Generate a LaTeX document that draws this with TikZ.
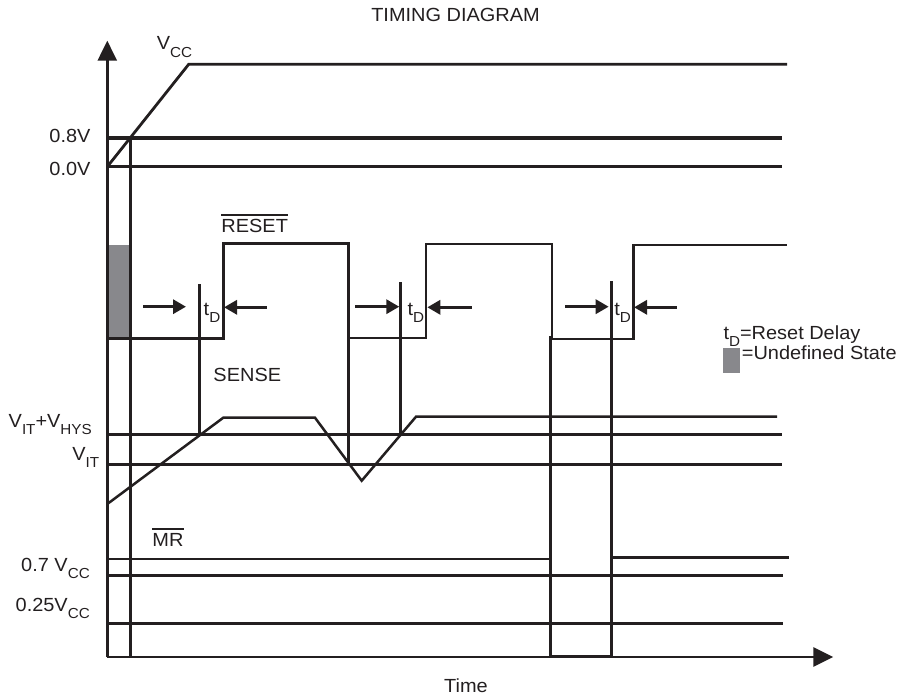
\documentclass[tikz,border=0pt]{standalone}
\usepackage{fontspec}
\setmainfont{Liberation Sans}[FakeStretch=1.05]
\usetikzlibrary{arrows.meta}
\definecolor{ink}{HTML}{231F20}
\definecolor{undef}{HTML}{88888C}
\newcommand{\lowtxt}[1]{\raisebox{-0.7ex}{\fontsize{14.5}{14.5}\selectfont #1}}
\newcommand{\ovl}[1]{\leavevmode\vbox{\hrule height 1.5pt\kern 3pt\hbox{#1}}}

\begin{document}
\begin{tikzpicture}[x=1pt,y=-1pt,
  lbl/.style={font=\fontsize{19}{22}\selectfont,inner sep=0pt,text=ink},
  thr/.style={ink,line width=3pt},
  wave/.style={ink,line width=2.5pt,line join=miter},
  axis/.style={ink,line width=2.8pt,-{Triangle[length=20pt,width=19pt]}},
  tdarr/.style={ink,line width=3.2pt,-{Triangle[length=13pt,width=14pt]}}]
\useasboundingbox (0,0) rectangle (907,698);

\node [lbl,anchor=base] (title) at (455.5,21.5) {TIMING DIAGRAM};

% axes
\draw [axis] (107.3,657) -- (107.3,40.7);
\draw [axis] (107.3,657) -- (833.3,657);
\draw [thr] (130,138) -- (130,657);

% supply
\draw [wave,line width=2.8pt] (107.3,166.7) -- (188.7,64.3) -- (787,64.3);
\draw [thr] (107.3,138) -- (782,138);
\draw [thr] (107.3,166.7) -- (782,166.7);
\node [lbl,anchor=base] (vcc) at (174.5,50) {V\lowtxt{CC}};
\node [lbl,anchor=base east] (v08) at (90.7,142.7) {0.8V};
\node [lbl,anchor=base east] (v00) at (90.7,175) {0.0V};

% reset output
\fill [undef] (108.7,245) rectangle (128.6,337);
\draw [wave] (107.3,338.3) -- (223.3,338.3) -- (223.3,243.5) -- (348.5,243.5) -- (348.5,338)
  -- (426,338) -- (426,244) -- (552,244) -- (552,339) -- (633.3,339) -- (633.3,245) -- (787,245);
\draw [thr] (348.5,338) -- (348.5,463);
\node [lbl,anchor=base] (reset) at (254.7,232) {\ovl{RESET}};

\draw [thr] (199.3,284.3) -- (199.3,434);
\draw [thr] (400.3,282.3) -- (400.3,433);
\draw [tdarr] (143.3,306.7) -- (186,306.7);
\draw [tdarr] (266.7,307.3) -- (224,307.3);
\draw [tdarr] (355,306.7) -- (399.3,306.7);
\draw [tdarr] (471.7,307.3) -- (427.3,307.3);
\draw [tdarr] (565,306.7) -- (608.7,306.7);
\draw [tdarr] (676.7,307.3) -- (634,307.3);
\node [lbl,anchor=base] (td1) at (212,315) {t\lowtxt{D}};
\node [lbl,anchor=base] (td2) at (415.8,315) {t\lowtxt{D}};
\node [lbl,anchor=base] (td3) at (622.7,315) {t\lowtxt{D}};

% legend
\node [lbl,anchor=base west] (leg1) at (723.3,339) {t\lowtxt{D}=Reset Delay};
\fill [undef] (722.7,348.3) rectangle (740,372.7);
\node [lbl,anchor=base west] (leg2) at (741.7,359.3) {=Undefined State};

% sense input
\node [lbl,anchor=base] (sense) at (247.3,381.7) {SENSE};
\draw [wave] (107.3,504) -- (223.3,417.7) -- (315,417.7) -- (361.7,480.7) -- (416,416.7) -- (777,416.7);
\draw [thr] (107.3,434) -- (782,434);
\draw [thr] (107.3,464) -- (782,464);
\node [lbl,anchor=base east] (vhys) at (92,427.3) {V\lowtxt{IT}+V\lowtxt{HYS}};
\node [lbl,anchor=base east] (vit) at (99.3,460) {V\lowtxt{IT}};

% manual reset
\node [lbl,anchor=base] (mr) at (168,546) {\ovl{MR}};
\draw [wave] (107.3,559) -- (550.5,559);
\draw [wave] (611.5,557.7) -- (789,557.7);
\draw [thr] (550.5,336) -- (550.5,656) -- (611.5,656);
\draw [thr] (611.5,281) -- (611.5,656);
\draw [thr] (107.3,575) -- (783,575);
\draw [thr] (107.3,623.3) -- (783,623.3);
\node [lbl,anchor=base east] (v07) at (90,571.7) {0.7 V\lowtxt{CC}};
\node [lbl,anchor=base east] (v025) at (90,611.7) {0.25V\lowtxt{CC}};

\node [lbl,anchor=base] (time) at (466,692.3) {Time};
\end{tikzpicture}
\end{document}
